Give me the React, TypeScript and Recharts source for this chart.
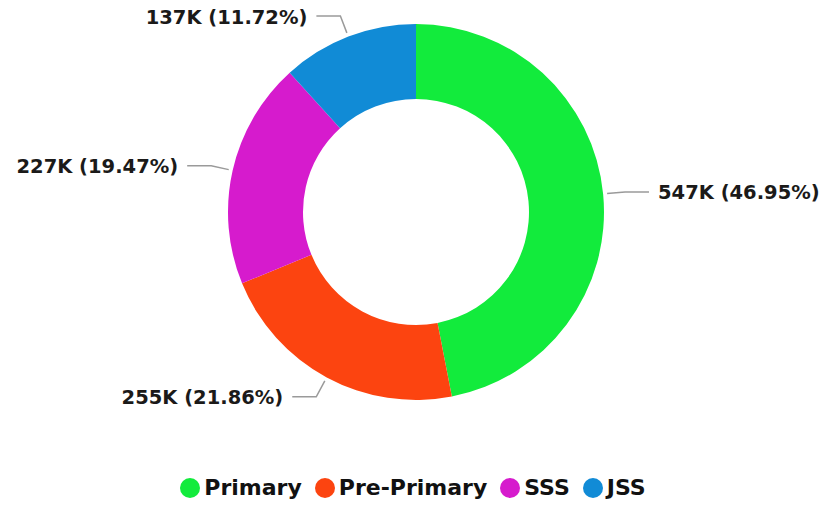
import { Cell, Legend, Pie, PieChart } from 'recharts'

const categories = ['Primary', 'Pre-Primary', 'SSS', 'JSS']
const values = [547400, 254900, 227000, 136700]
const colors = ['#12eb3c', '#fc4410', '#d61bcd', '#118bd6']

const data = categories.map((name, i) => ({ name, value: values[i] }))

const RADIAN = Math.PI / 180
const FONT = '"DejaVu Sans", "Noto Sans", sans-serif'

function formatK(v: number) {
  return `${Math.round(v / 1000)}K`
}

function renderLabel(props: any) {
  const { cx, cy, midAngle, outerRadius, value, percent } = props
  const cos = Math.cos(-midAngle * RADIAN)
  const sin = Math.sin(-midAngle * RADIAN)
  const sx = cx + (outerRadius + 4) * cos
  const sy = cy + (outerRadius + 4) * sin
  const mx = cx + (outerRadius + 22) * cos
  const my = cy + (outerRadius + 22) * sin
  const right = cos >= 0
  const ex = mx + (right ? 24 : -24)
  const tx = ex + (right ? 9 : -9)
  return (
    <g>
      <polyline
        points={`${sx},${sy} ${mx},${my} ${ex},${my}`}
        fill='none'
        stroke='#9a9a9a'
        strokeWidth={1.5}
      />
      <text
        x={tx}
        y={my + 1}
        textAnchor={right ? 'start' : 'end'}
        dominantBaseline='central'
        fill='#1b1a19'
        fontFamily={FONT}
        fontWeight={700}
        fontSize={19.5}
      >
        {`${formatK(value)} (${(percent * 100).toFixed(2)}%)`}
      </text>
    </g>
  )
}

function LegendContent() {
  return (
    <div
      style={{
        display: 'flex',
        justifyContent: 'center',
        alignItems: 'center',
        gap: 13,
        fontFamily: FONT,
        fontWeight: 700,
        fontSize: 22,
        color: '#111',
        height: 24,
      }}
    >
      {categories.map((c, i) => (
        <div key={c} style={{ display: 'flex', alignItems: 'center', gap: 4 }}>
          <span
            style={{
              width: 20,
              height: 20,
              borderRadius: '50%',
              background: colors[i],
              display: 'inline-block',
            }}
          />
          <span style={{ lineHeight: '24px' }}>{c}</span>
        </div>
      ))}
    </div>
  )
}

export default function App() {
  return (
    <div style={{ position: 'absolute', left: 0, top: 0, background: '#fff' }}>
      <PieChart
        width={826}
        height={507}
        margin={{ top: 0, right: 0, bottom: 0, left: 0 }}
      >
        <Pie
          data={data}
          dataKey='value'
          nameKey='name'
          cx={416}
          cy={212}
          innerRadius={113}
          outerRadius={188}
          startAngle={90}
          endAngle={-270}
          stroke='none'
          label={renderLabel}
          labelLine={false}
          isAnimationActive={false}
        >
          {data.map((d, i) => (
            <Cell key={d.name} fill={colors[i]} />
          ))}
        </Pie>
        <Legend
          content={<LegendContent />}
          wrapperStyle={{ top: 476, left: 0, width: 826 }}
        />
      </PieChart>
    </div>
  )
}
